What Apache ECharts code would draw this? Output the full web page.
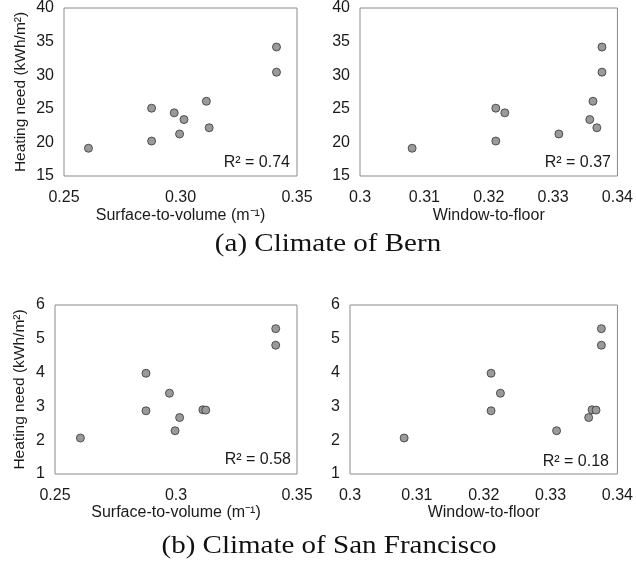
<!DOCTYPE html>
<html><head><meta charset="utf-8">
<script src="https://cdn.jsdelivr.net/npm/echarts@6/dist/echarts.min.js"></script>
<style>html,body{margin:0;padding:0;background:#fff}#c{width:636px;height:567px}</style>
</head><body><div id="c"></div>
<script>
// Building data (same 10 buildings in each panel)
const surfaceToVolume = [0.2605, 0.2876, 0.2876, 0.2973, 0.2996, 0.3015, 0.3111, 0.3123, 0.3412, 0.3412];
const windowToFloor   = [0.3081, 0.3211, 0.3211, 0.3225, 0.3309, 0.3357, 0.3362, 0.3368, 0.3376, 0.3376];
const heatBern        = [19.13, 20.2, 25.09, 24.4, 21.25, 23.4, 26.12, 22.18, 34.19, 30.45];
const heatSF          = [2.065, 2.87, 3.98, 3.39, 2.28, 2.67, 2.90, 2.89, 5.30, 4.81];
const r2Values        = ['0.74', '0.37', '0.58', '0.18'];
const xTicksSVa = ['0.25', '0.30', '0.35'];
const xTicksSVb = ['0.25', '0.3', '0.35'];
const xTicksWF  = ['0.3', '0.31', '0.32', '0.33', '0.34'];
const yTicksBern = ['15', '20', '25', '30', '35', '40'];
const yTicksSF   = ['1', '2', '3', '4', '5', '6'];
const captions = ['(a) Climate of Bern', '(b) Climate of San Francisco'];

const SANS = '"Liberation Sans", Arial, sans-serif';
const SERIF = '"Liberation Serif", "DejaVu Serif", serif';
const chart = echarts.init(document.getElementById('c'), null, {renderer: 'canvas'});

const grids = [
  {left: 64, top: 8, width: 233, height: 168},
  {left: 360, top: 8, width: 260, height: 168},
  {left: 55, top: 305, width: 242, height: 169},
  {left: 350, top: 305, width: 269, height: 169}
];
grids.forEach(g => { g.show = true; g.borderColor = '#8a8a8a'; g.borderWidth = 1; g.backgroundColor = 'transparent'; });

function xAxis(i, min, max, interval, ticks, name) {
  return {
    type: 'value', gridIndex: i, min, max, interval,
    name, nameLocation: 'middle', nameGap: i < 2 ? 32 : 28,
    nameTextStyle: {fontFamily: SANS, fontSize: 16, color: '#1a1a1a'},
    axisLine: {show: false}, axisTick: {show: false}, splitLine: {show: false},
    axisLabel: {fontFamily: SANS, fontSize: 16, color: '#1a1a1a', margin: 14,
      formatter: (v, idx) => ticks[idx]}
  };
}
function yAxis(i, min, max, interval, ticks, name, gap) {
  return {
    type: 'value', gridIndex: i, min, max, interval,
    name, nameLocation: 'middle', nameGap: gap, nameRotate: 90,
    nameTextStyle: {fontFamily: SANS, fontSize: 15.5, color: '#1a1a1a'},
    axisLine: {show: false}, axisTick: {show: false}, splitLine: {show: false},
    axisLabel: {fontFamily: SANS, fontSize: 16, color: '#1a1a1a', margin: 10,
      formatter: (v, idx) => ticks[idx]}
  };
}
const yName = 'Heating need (kWh/m²)';
const pts = (xs, ys) => xs.map((x, k) => [x, ys[k]]);
const scatter = (i, data) => ({
  type: 'scatter', xAxisIndex: i, yAxisIndex: i, data, symbolSize: 8,
  itemStyle: {color: '#9a9a9a', borderColor: '#333', borderWidth: 0.8, opacity: 1},
  silent: true
});

const r2Pos = [[290, 163], [611, 163], [291, 460], [609, 462]];

chart.setOption({
  animation: false,
  backgroundColor: '#fff',
  grid: grids,
  xAxis: [
    xAxis(0, 0.25, 0.35, 0.05, xTicksSVa, 'Surface-to-volume (m⁻¹)'),
    xAxis(1, 0.30, 0.34, 0.01, xTicksWF, 'Window-to-floor'),
    xAxis(2, 0.25, 0.35, 0.05, xTicksSVb, 'Surface-to-volume (m⁻¹)'),
    xAxis(3, 0.30, 0.34, 0.01, xTicksWF, 'Window-to-floor')
  ],
  yAxis: [
    yAxis(0, 15, 40, 5, yTicksBern, yName, 35),
    yAxis(1, 15, 40, 5, yTicksBern, '', 30),
    yAxis(2, 1, 6, 1, yTicksSF, yName, 27),
    yAxis(3, 1, 6, 1, yTicksSF, '', 30)
  ],
  series: [
    scatter(0, pts(surfaceToVolume, heatBern)),
    scatter(1, pts(windowToFloor, heatBern)),
    scatter(2, pts(surfaceToVolume, heatSF)),
    scatter(3, pts(windowToFloor, heatSF))
  ],
  graphic: [
    ...r2Values.map((r, i) => ({
      type: 'text', x: r2Pos[i][0], y: r2Pos[i][1], silent: true,
      style: {text: 'R² = ' + r, font: '16px ' + SANS, fill: '#1a1a1a', align: 'right', verticalAlign: 'middle'}
    })),
    {type: 'text', x: 328, y: 244, scaleX: 1.16, silent: true,
      style: {text: captions[0], font: '25px ' + SERIF, fill: '#111', align: 'center', verticalAlign: 'middle'}},
    {type: 'text', x: 329, y: 546, scaleX: 1.16, silent: true,
      style: {text: captions[1], font: '25px ' + SERIF, fill: '#111', align: 'center', verticalAlign: 'middle'}}
  ]
});
</script></body></html>
